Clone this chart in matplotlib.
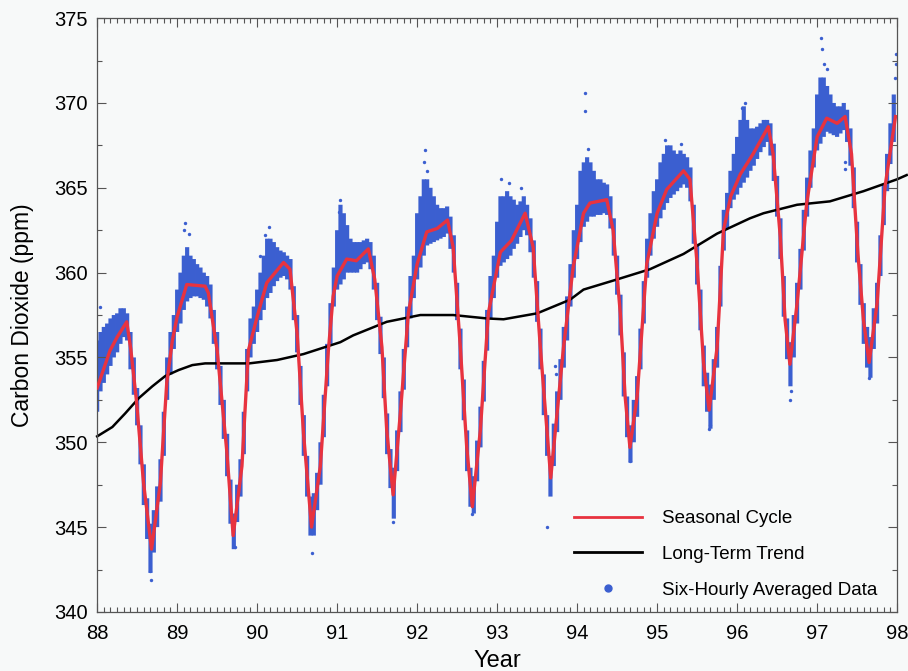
import matplotlib
matplotlib.use("Agg")
import matplotlib.pyplot as plt
from matplotlib.lines import Line2D
from matplotlib.ticker import MultipleLocator
import numpy as np

plt.rcParams['font.family'] = ['Liberation Sans', 'DejaVu Sans']

# seasonal cycle (red)
cycle_t = [88.0, 88.16, 88.25, 88.37, 88.42, 88.49, 88.58, 88.68, 88.79, 88.87, 88.94,
           89.0, 89.12, 89.35, 89.39, 89.5, 89.62, 89.70, 89.81, 89.89,
           90.0, 90.12, 90.33, 90.41, 90.5, 90.58, 90.68, 90.79, 90.89, 90.95,
           91.0, 91.12, 91.24, 91.39, 91.47, 91.56, 91.62, 91.70, 91.79, 91.89,
           92.0, 92.12, 92.25, 92.38, 92.45, 92.54, 92.62, 92.69, 92.79, 92.89,
           93.04, 93.18, 93.35, 93.45, 93.54, 93.67, 93.83, 93.95,
           94.08, 94.16, 94.37, 94.45, 94.54, 94.6, 94.66, 94.75, 94.87,
           95.0, 95.12, 95.33, 95.41, 95.5, 95.58, 95.65, 95.75, 95.83, 95.92,
           96.04, 96.2, 96.39, 96.45, 96.54, 96.6, 96.66, 96.75, 96.87,
           97.0, 97.12, 97.25, 97.35, 97.43, 97.51, 97.58, 97.65, 97.75, 97.85, 97.98]
cycle_ppm = [353.2, 355.4, 356.2, 357.1, 355.5, 352.5, 347.6, 343.7, 347.6, 353.5, 356.0,
             357.4, 359.3, 359.2, 358.8, 355.4, 349.5, 344.5, 348.6, 355.4,
             357.4, 359.4, 360.6, 360.2, 356.4, 350.5, 345.0, 348.6, 355.4, 358.6,
             359.8, 360.8, 360.7, 361.4, 359.6, 355.6, 350.7, 346.9, 351.7, 357.6,
             360.5, 362.4, 362.6, 363.1, 361.5, 355.6, 349.7, 346.2, 350.7, 357.6,
             361.2, 361.9, 363.5, 361.5, 355.6, 347.9, 355.6, 360.3,
             363.5, 364.1, 364.3, 362.5, 357.6, 352.7, 349.7, 352.7, 360.5,
             363.5, 364.9, 366.0, 365.5, 360.5, 354.7, 351.9, 355.6, 362.5, 364.5,
             365.8, 367.0, 368.6, 367.0, 362.1, 357.2, 354.6, 358.2, 364.1,
             368.0, 369.1, 368.8, 369.2, 367.0, 361.1, 357.2, 354.7, 358.2, 365.1, 369.2]

# long-term trend (black)
trend_t = [88.0, 88.19, 88.35, 88.52, 88.69, 88.85, 89.02, 89.19, 89.35, 89.6, 89.9,
           90.25, 90.58, 91.04, 91.2, 91.62, 92.04, 92.45, 92.87, 93.08, 93.5, 93.91,
           94.08, 94.5, 94.91, 95.33, 95.75, 96.16, 96.33, 96.75, 97.16, 97.58, 98.0, 98.12]
trend_ppm = [350.35, 350.9, 351.7, 352.6, 353.3, 353.9, 354.26, 354.55, 354.65, 354.65, 354.65,
             354.85, 355.2, 355.9, 356.3, 357.1, 357.5, 357.5, 357.3, 357.25, 357.6, 358.4,
             359.0, 359.6, 360.2, 361.1, 362.3, 363.2, 363.5, 364.0, 364.2, 364.8, 365.5, 365.75]

# six-hourly data: spread (low / high) of the dots in each half-month
half_month = [0, 0.5, 1, 1.5, 2, 2.5, 3, 3.5, 4, 4.5, 5, 5.5,
              6, 6.5, 7, 7.5, 8, 8.5, 9, 9.5, 10, 10.5, 11, 11.5]
years = [88, 89, 90, 91, 92, 93, 94, 95, 96, 97]
spread_lo = {
    88: [351.8, 353.0, 353.5, 354.0, 354.5, 355.0, 355.3, 355.8, 356.2, 356.0, 354.3, 352.8,
         351.0, 348.7, 346.3, 344.3, 342.3, 343.5, 345.0, 346.5, 349.2, 352.5, 354.0, 355.5],
    89: [356.5, 357.0, 357.8, 358.3, 358.5, 358.6, 358.6, 358.5, 358.4, 358.0, 357.3, 355.8,
         354.3, 352.2, 350.2, 348.0, 345.2, 343.7, 345.3, 346.8, 349.3, 353.0, 355.0, 355.8],
    90: [356.5, 357.2, 357.8, 358.5, 358.8, 359.2, 359.5, 359.7, 359.8, 359.6, 359.0, 357.2,
         355.3, 352.2, 349.2, 346.8, 344.5, 344.5, 346.0, 347.5, 350.3, 353.3, 355.8, 358.0],
    91: [359.0, 359.3, 359.6, 360.0, 360.0, 360.0, 360.0, 360.2, 360.5, 360.6, 360.2, 359.0,
         357.2, 355.2, 352.6, 349.3, 347.3, 345.5, 348.3, 350.6, 353.1, 355.6, 357.3, 358.5],
    92: [359.6, 360.3, 361.0, 361.6, 361.7, 361.8, 361.9, 362.0, 362.1, 362.3, 361.4, 360.0,
         357.2, 354.3, 351.3, 348.3, 346.2, 345.8, 347.7, 349.7, 352.4, 355.4, 357.3, 358.5],
    93: [359.7, 360.4, 360.6, 360.8, 361.0, 361.4, 361.7, 362.1, 362.5, 362.2, 361.2, 359.7,
         357.1, 354.3, 351.6, 349.2, 346.8, 348.6, 350.6, 352.5, 354.4, 356.0, 358.0, 359.7],
    94: [360.8, 361.8, 362.7, 363.0, 363.3, 363.3, 363.4, 363.4, 363.5, 363.4, 362.6, 361.0,
         358.7, 356.3, 352.7, 350.3, 348.8, 350.0, 351.5, 354.3, 357.0, 359.7, 361.0, 362.0],
    95: [362.7, 363.2, 363.7, 364.1, 364.4, 364.6, 364.8, 365.0, 365.2, 365.0, 364.2, 361.7,
         359.3, 356.6, 353.3, 351.8, 350.8, 352.5, 354.4, 358.0, 361.3, 362.6, 363.8, 364.3],
    96: [364.6, 365.0, 365.3, 365.6, 366.0, 366.3, 366.7, 367.1, 367.4, 367.7, 366.9, 365.4,
         363.3, 360.8, 357.4, 354.9, 353.3, 355.0, 357.0, 359.0, 361.3, 363.3, 365.0, 366.2],
    97: [367.2, 367.6, 368.0, 368.3, 368.2, 368.1, 368.0, 368.2, 368.4, 367.7, 366.3, 363.8,
         360.6, 358.1, 355.8, 354.4, 353.8, 355.5, 357.0, 359.8, 362.8, 364.8, 366.4, 367.7],
}
spread_hi = {
    88: [356.0, 356.5, 356.8, 357.0, 357.3, 357.5, 357.6, 357.9, 357.9, 357.6, 356.5, 355.0,
         353.2, 351.0, 348.7, 346.7, 345.2, 346.0, 347.4, 349.0, 351.8, 355.0, 356.5, 357.5],
    89: [359.0, 360.0, 361.0, 361.5, 361.0, 360.8, 360.5, 360.3, 360.0, 359.8, 359.3, 357.8,
         356.5, 354.5, 352.5, 350.5, 347.8, 345.8, 347.5, 349.0, 351.8, 355.5, 357.3, 358.0],
    90: [359.0, 360.0, 361.0, 362.0, 362.0, 361.8, 361.5, 361.3, 361.2, 361.0, 360.8, 359.2,
         357.5, 354.5, 351.6, 349.2, 346.8, 347.0, 348.2, 350.0, 352.8, 355.8, 358.2, 360.3],
    91: [362.5, 364.0, 363.5, 362.8, 362.0, 361.8, 361.8, 361.8, 361.9, 362.0, 361.8, 361.0,
         359.4, 357.4, 355.0, 351.7, 349.6, 348.5, 350.7, 353.0, 355.5, 358.0, 359.8, 361.0],
    92: [363.5, 364.5, 365.5, 365.5, 365.0, 364.5, 364.0, 363.8, 363.8, 363.9, 363.3, 362.2,
         359.4, 356.7, 353.7, 350.7, 348.5, 348.0, 350.1, 352.1, 354.8, 357.8, 359.8, 361.0],
    93: [363.0, 364.5, 364.5, 364.8, 364.5, 364.3, 364.0, 364.2, 364.5, 364.0, 363.2, 361.9,
         359.5, 356.7, 354.0, 351.6, 349.2, 351.1, 353.0, 354.9, 356.8, 358.6, 360.5, 362.5],
    94: [364.0, 366.0, 366.5, 366.8, 366.5, 366.0, 365.5, 365.5, 365.3, 365.2, 364.5, 363.2,
         361.0, 358.7, 355.3, 352.7, 351.0, 352.5, 353.9, 356.7, 359.5, 362.0, 363.5, 364.8],
    95: [365.5, 366.5, 367.0, 367.5, 367.5, 367.2, 367.0, 367.2, 367.0, 366.8, 366.2, 364.0,
         361.7, 359.0, 355.7, 354.1, 353.4, 354.9, 356.8, 360.4, 363.7, 364.7, 366.0, 367.0],
    96: [368.0, 369.0, 369.8, 369.0, 368.5, 368.5, 368.6, 368.8, 369.0, 369.0, 368.8, 367.6,
         365.7, 363.2, 359.8, 357.3, 355.9, 357.5, 359.4, 361.4, 363.7, 365.6, 367.2, 368.5],
    97: [370.5, 371.5, 371.5, 371.0, 370.5, 370.0, 369.8, 369.8, 370.0, 369.6, 368.5, 366.2,
         363.0, 360.5, 358.2, 356.8, 356.2, 357.9, 359.4, 362.2, 365.2, 367.0, 368.8, 370.5],
}

# isolated six-hourly points away from the main band
stray_t = [88.03, 88.67, 88.66, 89.1, 89.15, 89.08, 89.72, 90.15, 90.1, 90.03, 90.68,
           91.04, 91.02, 91.7, 92.1, 92.08, 92.12, 92.68, 93.05, 93.15, 93.3, 93.62,
           93.72, 93.73, 94.1, 94.1, 94.13, 94.66, 95.1, 95.3, 95.65, 95.66, 96.06, 96.1,
           96.66, 96.67, 97.05, 97.06, 97.08, 97.12, 97.35, 97.35, 97.65, 97.99, 97.98, 97.97]
stray_ppm = [358.0, 341.9, 342.4, 362.9, 362.3, 362.5, 343.8, 362.7, 362.2, 361.0, 343.5,
             364.3, 363.6, 345.3, 367.2, 366.5, 366.0, 345.8, 365.5, 365.3, 365.0, 345.0,
             354.5, 354.0, 370.6, 369.5, 367.3, 348.9, 367.8, 367.6, 350.8, 351.0, 369.7, 370.0,
             352.5, 353.0, 373.8, 373.2, 372.3, 372.0, 366.1, 366.5, 353.8, 372.9, 372.3, 371.5]

blue = '#3b5fd0'
red = '#e8333f'
paper = '#f7f9f9'
spine_col = '#555555'

fig = plt.figure(figsize=(9.08, 6.71), dpi=100)
fig.patch.set_facecolor(paper)
ax = fig.add_axes([0.107, 0.088, 0.881, 0.885])
ax.set_facecolor(paper)

# vertical streaks: range of the six-hourly points in each half-month
for yr in years:
    t = [yr + m / 12.0 for m in half_month]
    ax.vlines(t, spread_lo[yr], spread_hi[yr], colors=blue, linewidth=3.0,
              snap=False, zorder=1)
ax.scatter(stray_t, stray_ppm, s=6, color=blue, zorder=1, linewidths=0)

ax.plot(trend_t, trend_ppm, color='black', linewidth=1.8, zorder=2, clip_on=False)
ax.plot(cycle_t, cycle_ppm, color=red, linewidth=2.4, zorder=3,
        solid_joinstyle='round')

ax.set_xlim(88, 98)
ax.set_ylim(340, 375)
ax.xaxis.set_major_locator(MultipleLocator(1))
ax.xaxis.set_minor_locator(MultipleLocator(1 / 12))
ax.yaxis.set_major_locator(MultipleLocator(5))
ax.yaxis.set_minor_locator(MultipleLocator(2.5))
ax.tick_params(which='both', direction='in', top=True, right=True, labelsize=14.5,
               width=0.8, color=spine_col)
ax.tick_params(which='major', length=6.5)
ax.tick_params(which='minor', length=3.3)
ax.tick_params(axis='x', which='major', pad=9)
ax.tick_params(axis='y', which='major', pad=7)
for s in ax.spines.values():
    s.set_linewidth(0.9)
    s.set_color(spine_col)
ax.set_xlabel('Year', fontsize=17, labelpad=5)
ax.set_ylabel('Carbon Dioxide (ppm)', fontsize=16.5, labelpad=14)

handles = [Line2D([], [], color=red, linewidth=2),
           Line2D([], [], color='black', linewidth=2),
           Line2D([], [], color=blue, marker='o', markersize=5, linestyle='none')]
labels = ['Seasonal Cycle', 'Long-Term Trend', 'Six-Hourly Averaged Data']
ax.legend(handles, labels, loc='lower right', bbox_to_anchor=(0.992, 0.0), frameon=False,
          fontsize=13.5, handlelength=3.6, labelspacing=1.0, handletextpad=1.1,
          borderpad=0.3, borderaxespad=0.4)

fig.savefig('out.png', dpi=100, facecolor=fig.get_facecolor())
